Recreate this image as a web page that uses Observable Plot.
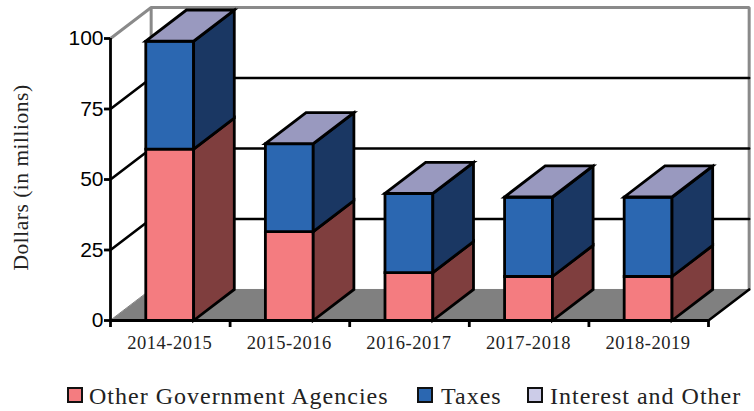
<!DOCTYPE html>
<html>
<head>
<meta charset="utf-8">
<script src="https://cdn.jsdelivr.net/npm/d3@7"></script>
<script src="https://cdn.jsdelivr.net/npm/@observablehq/plot@0.6"></script>
<style>
html,body{margin:0;padding:0;background:#fff;width:754px;height:411px;overflow:hidden}
svg{display:block}
.xl text{letter-spacing:.55px}
.yl text{letter-spacing:.5px}
.legend{position:relative;height:55px;font:24px "Liberation Serif",serif;color:#222}
.legend span{position:absolute;top:26px;line-height:28px;white-space:nowrap;letter-spacing:1px}
.legend i{position:absolute;top:31px;width:12px;height:12px;border:2.5px solid #111;box-sizing:content-box}
</style>
</head>
<body>
<div id="chart"></div>
<script>
const years = ["2014-2015","2015-2016","2016-2017","2017-2018","2018-2019"];
const otherAgencies = [60.8, 31.5, 17, 15.6, 15.6];
const taxes = [38.2, 31.1, 28, 28.1, 28.1];
const interestOther = [0.1, 0.1, 0.1, 0.1, 0.1];
const seriesNames = ["Other Government Agencies","Taxes","Interest and Other"];
const frontColors = ["#F47C80","#2B67B1","#CCCCE8"];
const sideColors = ["#7F3E3E","#1A3763"];
const topColor = "#9999BF";
const yTicks = [0,25,50,75,100];
const depthX = 0.34, depthY = 11, halfBar = 0.2;

const poly = (id, pts) => pts.map(([x,y]) => ({id,x,y}));
const front = [[],[]], side = [[],[]], topFace = [];
years.forEach((yr,i) => {
  const c = i + 0.495, l = c - halfBar, r = c + halfBar;
  const y1 = otherAgencies[i], y2 = y1 + taxes[i], y3 = y2 + interestOther[i];
  [[0,y1],[y1,y2]].forEach(([a,b],s) => {
    front[s].push(...poly(`${i}f${s}`, [[l,a],[r,a],[r,b],[l,b]]));
    side[s].push(...poly(`${i}s${s}`, [[r,a],[r+depthX,a+depthY],[r+depthX,b+depthY],[r,b]]));
  });
  topFace.push(...poly(`${i}t`, [[l,y3],[r,y3],[r+depthX,y3+depthY],[l+depthX,y3+depthY]]));
});
const face = (data, fill) => Plot.line(data, {x:"x", y:"y", z:"id", fill, stroke:"#000", strokeWidth:2.8,
  curve:"linear-closed", strokeLinejoin:"miter", strokeMiterlimit:4});

const n = years.length;
const floor = [{x:0,y:0},{x:n,y:0},{x:n+depthX,y:depthY},{x:depthX,y:depthY}];
const wallGrid = yTicks.filter(t => t>0 && t<100).flatMap(t => [
  {id:t,x:0,y:t},{id:t,x:depthX,y:t+depthY},{id:t,x:n+depthX,y:t+depthY}]);
const wallTop = [{x:0,y:100},{x:depthX,y:100+depthY},{x:n+depthX,y:100+depthY},{x:n+depthX,y:depthY}];

const plot = Plot.plot({
  width:754, height:356, marginLeft:110, marginRight:46, marginTop:38, marginBottom:36,
  x:{domain:[0,n], axis:null}, y:{domain:[0,100], axis:null},
  style:{background:"#fff", overflow:"visible"},
  marks:[
    Plot.line(floor, {x:"x", y:"y", fill:"#808080", stroke:"#808080", strokeWidth:1, curve:"linear-closed"}),
    Plot.line(wallTop, {x:"x", y:"y", stroke:"#8a8a8a", strokeWidth:3, strokeLinejoin:"miter"}),
    Plot.ruleX([depthX], {y1:depthY, y2:100+depthY, stroke:"#8a8a8a", strokeWidth:3}),
    Plot.line(wallGrid, {x:"x", y:"y", z:"id", stroke:"#000", strokeWidth:2.6}),
    Plot.line([{x:n,y:0},{x:n+depthX,y:depthY}], {x:"x", y:"y", stroke:"#000", strokeWidth:2.6}),
    Plot.ruleX([0], {y1:0, y2:100, stroke:"#000", strokeWidth:2.8}),
    Plot.ruleY([0], {x1:0, x2:n, stroke:"#000", strokeWidth:2.8}),
    face(front[0], frontColors[0]),
    face(side[0], sideColors[0]),
    face(front[1], frontColors[1]),
    face(side[1], sideColors[1]),
    face(topFace, topColor),
    Plot.axisY({ticks:yTicks, tickSize:6, tickPadding:1, strokeWidth:2.8, stroke:"#000", fontSize:21, label:null,
      fontFamily:"Liberation Sans", fill:"#000"}),
    Plot.axisX({ticks:d3.range(n+1), tickSize:7, tickPadding:0, strokeWidth:2.8, stroke:"#000", tickFormat:()=>"", label:null}),
    Plot.text(years, {x:(d,i)=>i+0.495, y:[0,0,0,0,0], dy:23, fontSize:18.5, fontFamily:"Liberation Serif", fill:"#222", className:"xl"}),
    Plot.text(["Dollars (in millions)"], {x:[0], y:[50], dx:-89, dy:-2, rotate:-90, fontSize:21.5,
      fontFamily:"Liberation Serif", fill:"#222", className:"yl"})
  ]
});
const root = document.getElementById("chart");
root.appendChild(plot);
const legend = document.createElement("div");
legend.className = "legend";
[[67,89],[417,441],[527,550]].forEach(([sx,tx],i) => {
  const sw = document.createElement("i");
  sw.style.left = sx+"px"; sw.style.background = frontColors[i];
  const t = document.createElement("span");
  t.style.left = tx+"px"; t.textContent = seriesNames[i];
  legend.append(sw,t);
});
root.appendChild(legend);
</script>
</body>
</html>
